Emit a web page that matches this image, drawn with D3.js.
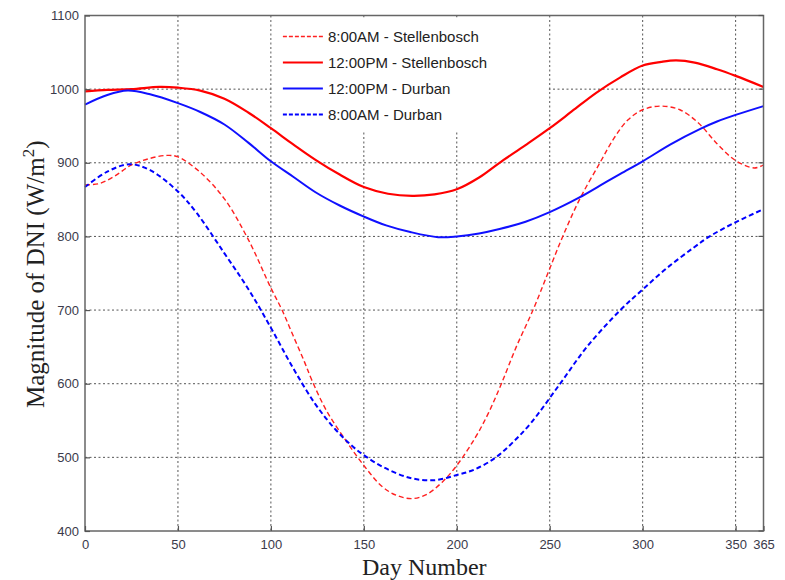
<!DOCTYPE html>
<html lang="en">
<head>
<meta charset="UTF-8">
<title>DNI</title>
<style>
  body { margin: 0; background: #fff; }
  svg { display: block; }
</style>
</head>
<body>
<svg id="chart"></svg>
<script src="https://d3js.org/d3.v7.min.js"></script>
<script>
// values (day number, W/m^2)
const days_noon_stb = [0, 12, 25, 40, 50, 62, 75, 88, 100, 112, 124, 137, 150, 163, 176, 188, 200, 212, 223, 237, 250, 262, 275, 288, 300, 310, 318, 328, 340, 350, 365];
const noon_stb      = [997, 999, 1000, 1003, 1002, 998, 987, 968, 947, 925, 904, 884, 867, 858, 855, 857, 864, 880, 900, 924, 947, 970, 995, 1016, 1032, 1037, 1039, 1036, 1027, 1018, 1003];

const days_noon_dbn = [0, 12, 23, 35, 50, 62, 75, 88, 100, 112, 124, 137, 150, 162, 175, 190, 200, 212, 223, 237, 250, 266, 277, 288, 300, 315, 331, 340, 350, 365];
const noon_dbn      = [979, 992, 998, 993, 981, 969, 952, 927, 902, 881, 860, 842, 827, 815, 806, 799, 800, 804, 810, 820, 833, 853, 869, 885, 902, 925, 946, 956, 965, 977];

const days_am_stb = [0, 8, 16, 25, 35, 44, 50, 62, 75, 88, 100, 106, 112, 118, 122, 130, 140, 150, 160, 168, 176, 184, 192, 200, 210, 217, 224, 232, 241, 249, 257, 266, 277, 285, 292, 300, 310, 320, 330, 340, 350, 360, 365];
const am_stb      = [870, 872, 882, 897, 906, 910, 908, 887, 851, 795, 730, 700, 665, 630, 605, 563, 524, 489, 460, 448, 444, 450, 466, 489, 527, 560, 600, 650, 700, 750, 800, 850, 900, 935, 958, 972, 977, 972, 954, 926, 903, 893, 897];

const days_am_dbn = [0, 12, 24, 35, 50, 60, 75, 88, 100, 112, 124, 134, 143, 150, 161, 175, 188, 200, 210, 221, 230, 240, 255, 270, 288, 300, 313, 327, 336, 349, 365];
const am_dbn      = [867, 888, 898, 890, 861, 832, 777, 728, 676, 621, 572, 540, 517, 503, 486, 472, 469, 476, 484, 500, 520, 547, 598, 650, 700, 728, 757, 784, 800, 818, 837];

const x_ticks = [0, 50, 100, 150, 200, 250, 300, 350, 365];
const y_ticks = [400, 500, 600, 700, 800, 900, 1000, 1100];

const series = [
    {label: "8:00AM - Stellenbosch",  days: days_am_stb,   vals: am_stb,   color: "#ff2020", width: 1.4, dash: "5,3"},
    {label: "12:00PM - Stellenbosch", days: days_noon_stb, vals: noon_stb, color: "#ff0000", width: 2.2, dash: null},
    {label: "12:00PM - Durban",       days: days_noon_dbn, vals: noon_dbn, color: "#1010ff", width: 2.0, dash: null},
    {label: "8:00AM - Durban",        days: days_am_dbn,   vals: am_dbn,   color: "#0000ff", width: 2.0, dash: "5,3"}
];

const W = 785, H = 580;
const margin = {top: 15.5, right: 21.5, bottom: 49, left: 85};
const width = W - margin.left - margin.right;
const height = H - margin.top - margin.bottom;

const svg = d3.select("#chart").attr("width", W).attr("height", H);
const plot = svg.append("g")
    .attr("transform", "translate(" + margin.left + "," + margin.top + ")");

const x_scale = d3.scaleLinear().domain([0, 365]).range([0, width]);
const y_scale = d3.scaleLinear().domain([400, 1100]).range([height, 0]);

// grid
plot.append("g").selectAll("line")
    .data(x_ticks.filter(d => d > 0 && d < 365))
    .enter().append("line")
    .attr("x1", d => x_scale(d)).attr("x2", d => x_scale(d))
    .attr("y1", 0).attr("y2", height)
    .attr("stroke", "#555").attr("stroke-width", 1).attr("stroke-dasharray", "2,2.5");

plot.append("g").selectAll("line")
    .data(y_ticks.filter(d => d > 400 && d < 1100))
    .enter().append("line")
    .attr("x1", 0).attr("x2", width)
    .attr("y1", d => y_scale(d)).attr("y2", d => y_scale(d))
    .attr("stroke", "#555").attr("stroke-width", 1).attr("stroke-dasharray", "2,2.5");

// legend background (drawn under curves, between grid lines 100 and 250)
const leg_x = x_scale(100) + 1;
const leg_w = x_scale(250) - x_scale(100) - 2;
plot.append("rect")
    .attr("x", leg_x).attr("y", 2)
    .attr("width", leg_w).attr("height", 113)
    .attr("fill", "#fff");

// curves
const line_gen = d3.line()
    .curve(d3.curveCatmullRom.alpha(0.5))
    .x(d => x_scale(d[0]))
    .y(d => y_scale(d[1]));

series.forEach(s => {
    plot.append("path")
        .datum(s.days.map((d, i) => [d, s.vals[i]]))
        .attr("fill", "none")
        .attr("stroke", s.color)
        .attr("stroke-width", s.width)
        .attr("stroke-dasharray", s.dash)
        .attr("d", line_gen);
});

// axes box
plot.append("rect")
    .attr("x", 0).attr("y", 0).attr("width", width).attr("height", height)
    .attr("fill", "none").attr("stroke", "#666").attr("stroke-width", 1.5);

const x_axis = d3.axisBottom(x_scale).tickValues(x_ticks).tickSize(-5).tickPadding(9).tickFormat(d3.format("d"));
const y_axis = d3.axisLeft(y_scale).tickValues(y_ticks).tickSize(-5).tickPadding(6).tickFormat(d3.format("d"));

const gx = plot.append("g").attr("transform", "translate(0," + height + ")").call(x_axis);
const gy = plot.append("g").call(y_axis);
[gx, gy].forEach(g => {
    g.select(".domain").remove();
    g.selectAll(".tick line").attr("stroke", "#555").attr("stroke-width", 1.2);
    g.selectAll(".tick text")
        .attr("fill", "#3a3a4a")
        .style("font-family", "'Liberation Sans Narrow', 'Liberation Sans', Arial, sans-serif")
        .style("font-size", "13px");
});
// right axis tick marks
plot.append("g").selectAll("line")
    .data(y_ticks)
    .enter().append("line")
    .attr("x1", width - 5).attr("x2", width)
    .attr("y1", d => y_scale(d)).attr("y2", d => y_scale(d))
    .attr("stroke", "#555").attr("stroke-width", 1.2);

// legend entries
const legend = plot.append("g").attr("transform", "translate(" + (leg_x + 11) + ",21)");
series.forEach((s, i) => {
    const row = legend.append("g").attr("transform", "translate(0," + (i * 26) + ")");
    row.append("line")
        .attr("x1", 0).attr("x2", 40).attr("y1", 0).attr("y2", 0)
        .attr("stroke", s.color)
        .attr("stroke-width", s.width)
        .attr("stroke-dasharray", s.dash ? "4,2" : null);
    row.append("text")
        .attr("x", 45).attr("y", 5.5)
        .attr("fill", "#222")
        .style("font-family", "'Liberation Sans', Arial, sans-serif")
        .style("font-size", "15px")
        .text(s.label);
});

// axis titles
svg.append("text")
    .attr("x", margin.left + width / 2).attr("y", 575)
    .attr("text-anchor", "middle")
    .style("font-family", "'Liberation Serif', 'Times New Roman', serif")
    .style("font-size", "24px")
    .attr("fill", "#222")
    .text("Day Number");

const ylab = svg.append("text")
    .attr("transform", "translate(44," + (margin.top + height / 2 + 1) + ") rotate(-90)")
    .attr("text-anchor", "middle")
    .style("font-family", "'Liberation Serif', 'Times New Roman', serif")
    .style("font-size", "25px")
    .attr("fill", "#222");
ylab.append("tspan").text("Magnitude of DNI (W/m");
ylab.append("tspan").attr("dy", -10).style("font-size", "17px").text("2");
ylab.append("tspan").attr("dy", 10).text(")");
</script>
</body>
</html>
